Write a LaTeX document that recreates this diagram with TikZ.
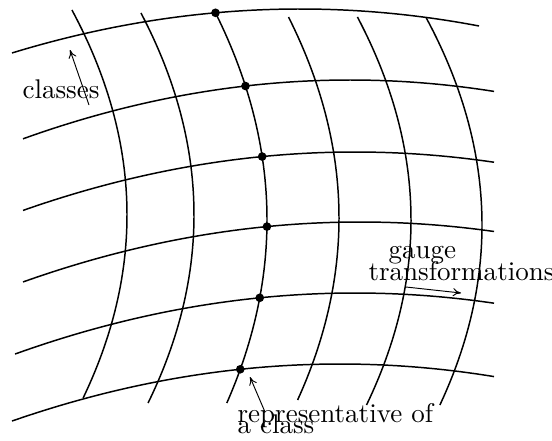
\documentclass[tikz,border=0pt]{standalone}
\usetikzlibrary{arrows.meta,intersections}
\begin{document}
\begin{tikzpicture}[x=0.37pt,y=-0.37pt,
  gridline/.style={line width=0.55pt},
  pointer/.style={line width=0.35pt,-{To[length=3pt,width=3pt]}},
  dot/.style={circle,fill=black,inner sep=0pt,minimum size=3.2pt},
  lbl/.style={inner sep=0pt,font=\normalsize}]
\path[use as bounding box] (0,0) rectangle (552,440);
% horizontal curves (classes): y = c + a*(x-x0)^2
\draw[gridline,name path=h1] plot[domain=12:479,samples=60,variable=\x] (\x,{9+5.3*((\x-300)/100)*((\x-300)/100)});
\draw[gridline,name path=h2] plot[domain=23:494,samples=60,variable=\x] (\x,{80+5.5*((\x-350)/100)*((\x-350)/100)});
\draw[gridline,name path=h3] plot[domain=23:494,samples=60,variable=\x] (\x,{152+5.3*((\x-355)/100)*((\x-355)/100)});
\draw[gridline,name path=h4] plot[domain=23:494,samples=60,variable=\x] (\x,{222+5.28*((\x-360)/100)*((\x-360)/100)});
\draw[gridline,name path=h5] plot[domain=15:494,samples=60,variable=\x] (\x,{293+5.28*((\x-355)/100)*((\x-355)/100)});
\draw[gridline,name path=h6] plot[domain=12:494,samples=60,variable=\x] (\x,{364+5.3*((\x-340)/100)*((\x-340)/100)});
% vertical curves (gauge orbits): x = d - b*(y-y0)^2
\draw[gridline,name path=v1] plot[domain=10:398,samples=60,variable=\t] ({127-13.1*((\t-215)/100)*((\t-215)/100)},\t);
\draw[gridline,name path=v2] plot[domain=13:403,samples=60,variable=\t] ({194-13*((\t-215)/100)*((\t-215)/100)},\t);
\draw[gridline,name path=v3] plot[domain=12.8:403,samples=60,variable=\t] ({267-12*((\t-220)/100)*((\t-220)/100)},\t);
\draw[gridline,name path=v4] plot[domain=17:400,samples=60,variable=\t] ({339-12.5*((\t-218)/100)*((\t-218)/100)},\t);
\draw[gridline,name path=v5] plot[domain=17:405,samples=60,variable=\t] ({411-13*((\t-220)/100)*((\t-220)/100)},\t);
\draw[gridline,name path=v6] plot[domain=18:405,samples=60,variable=\t] ({482-13*((\t-225)/100)*((\t-225)/100)},\t);
% representatives of the classes
\path[name intersections={of=v3 and h1,by=p1}];
\path[name intersections={of=v3 and h2,by=p2}];
\path[name intersections={of=v3 and h3,by=p3}];
\path[name intersections={of=v3 and h4,by=p4}];
\path[name intersections={of=v3 and h5,by=p5}];
\path[name intersections={of=v3 and h6,by=p6}];
\node[dot] (r1) at (p1) {};
\node[dot] (r2) at (p2) {};
\node[dot] (r3) at (p3) {};
\node[dot] (r4) at (p4) {};
\node[dot] (r5) at (p5) {};
\node[dot] (r6) at (p6) {};
% labels
\node[lbl,anchor=base west] (cls) at (22,98) {classes};
\coordinate (clsA) at (89,105);
\coordinate (clsB) at (70,50);
\draw[pointer] (clsA) -- (clsB);
\node[lbl,anchor=base west] (gauge) at (388,258) {gauge};
\node[lbl,anchor=base west] (transf) at (368,280) {transformations};
\coordinate (gA) at (406,287);
\coordinate (gB) at (461,293);
\draw[pointer] (gA) -- (gB);
\node[lbl,anchor=base west] (rep) at (237,422) {representative of};
\node[lbl,anchor=base west] (acl) at (237,433) {a class};
\coordinate (rA) at (265,412);
\coordinate (rB) at (250,377);
\draw[pointer] (rA) -- (rB);
\end{tikzpicture}
\end{document}
